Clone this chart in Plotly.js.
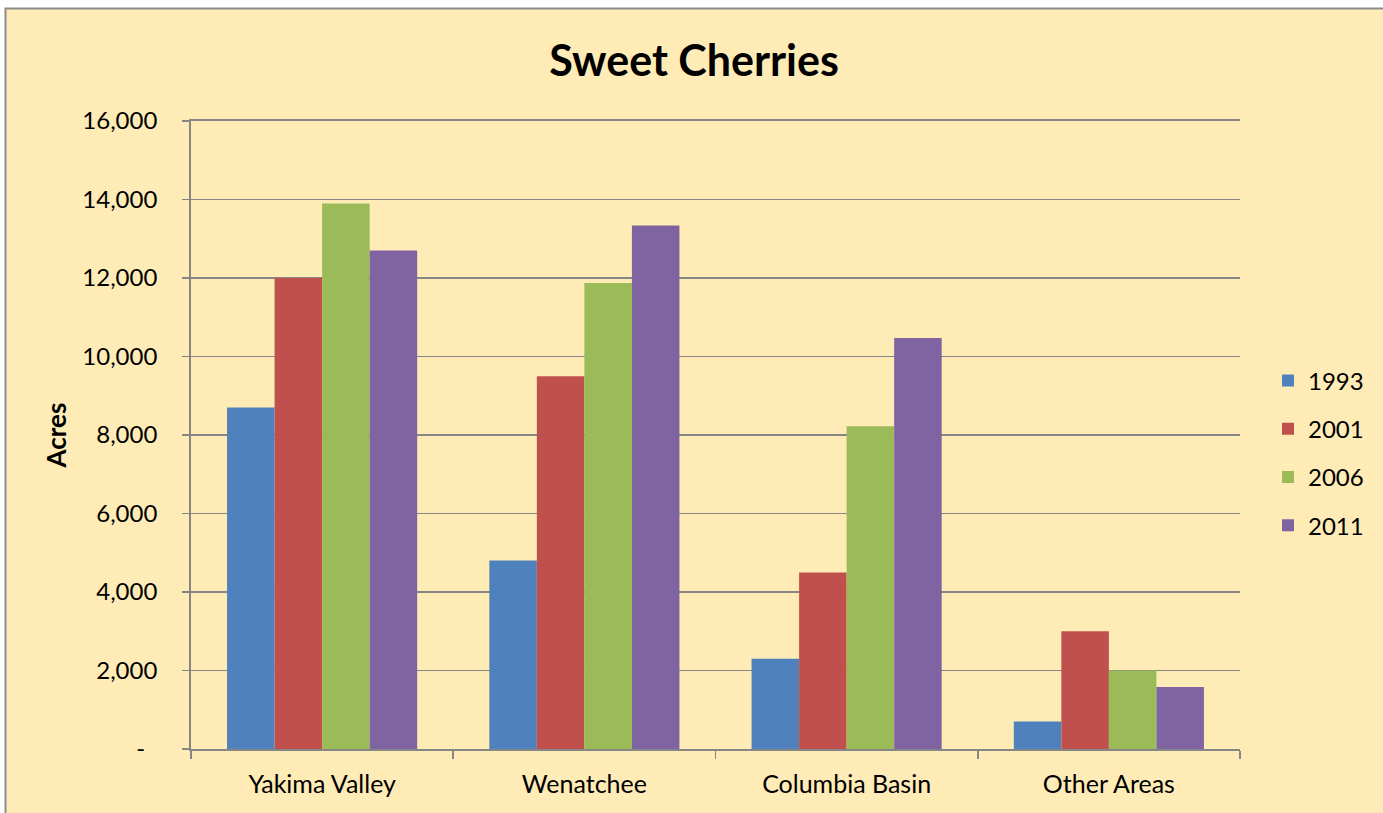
<!DOCTYPE html>
<html>
<head>
<meta charset="utf-8">
<script src="https://cdn.plot.ly/plotly-3.0.1.min.js"></script>
<style>html,body{margin:0;padding:0;background:#fff;}#chart{width:1383px;height:813px;}</style>
</head>
<body>
<div id="chart"></div>
<script>
const regions = ["Yakima Valley", "Wenatchee", "Columbia Basin", "Other Areas"];
const years = ["1993", "2001", "2006", "2011"];
const acres1993 = [8700, 4800, 2300, 700];
const acres2001 = [12000, 9500, 4500, 3000];
const acres2006 = [13900, 11870, 8220, 2000];
const acres2011 = [12700, 13340, 10470, 1580];
const colors = ["#4F81BD", "#C0504D", "#9BBB59", "#8064A2"];
const yTickVals = [0, 2000, 4000, 6000, 8000, 10000, 12000, 14000, 16000];
const yTickText = ["-\u00a0\u00a0", "2,000", "4,000", "6,000", "8,000", "10,000", "12,000", "14,000", "16,000"];

const series = [acres1993, acres2001, acres2006, acres2011];
const traces = series.map((vals, i) => ({
  type: "bar",
  name: years[i],
  x: regions,
  y: vals,
  marker: {color: colors[i], line: {width: 0}},
  legendgroup: "g" + i,
  hoverinfo: "x+y+name"
}));

const W = 1383, H = 813;
const gridColor = "#868686";
const layout = {
  width: W, height: H,
  margin: {l: 0, r: 0, t: 0, b: 0},
  paper_bgcolor: "#FFFFFF",
  plot_bgcolor: "#FFFFFF",
  font: {family: "Lato, 'Open Sans', sans-serif", color: "#000000", size: 24},
  barmode: "group",
  bargap: 0.275,
  bargroupgap: 0,
  title: {
    text: "<b>Sweet Cherries</b>",
    font: {family: "Lato, sans-serif", size: 43, color: "#000000"},
    x: 694 / W, xref: "paper", xanchor: "center",
    y: 1 - 61 / H, yref: "paper", yanchor: "middle"
  },
  xaxis: {
    domain: [191 / W, 1240 / W],
    type: "category",
    showline: true, linecolor: gridColor, linewidth: 1.8, mirror: true,
    ticks: "outside", tickson: "boundaries", ticklen: 8, tickcolor: gridColor, tickwidth: 1.8,
    ticklabelstandoff: 12,
    showgrid: false,
    tickfont: {size: 25},
    automargin: false,
    fixedrange: true
  },
  yaxis: {
    domain: [64 / H, 692 / H],
    range: [0, 16000],
    tickvals: yTickVals,
    ticktext: yTickText,
    showline: true, linecolor: gridColor, linewidth: 1.8,
    ticks: "outside", ticklen: 7, tickcolor: gridColor, tickwidth: 1.8,
    ticklabelstandoff: 20,
    showgrid: true, gridcolor: gridColor, gridwidth: 1.8,
    zeroline: false,
    tickfont: {size: 24},
    title: {text: "<b>Acres</b>", font: {size: 26}, standoff: 8},
    automargin: false,
    fixedrange: true
  },
  legend: {
    x: 1268 / W, xanchor: "left",
    y: 1 - 453 / H, yanchor: "middle",
    bgcolor: "rgba(0,0,0,0)",
    font: {size: 24},
    tracegroupgap: 14,
    itemwidth: 30
  },
  showlegend: true,
  shapes: [{
    type: "rect", xref: "paper", yref: "paper", layer: "below",
    x0: 5.5 / W, x1: 1.05, y0: -0.05, y1: 1 - 8.5 / H,
    fillcolor: "#FFEBB6",
    line: {color: "#8C8C8C", width: 2}
  }]
};

Plotly.newPlot("chart", traces, layout, {displayModeBar: false, staticPlot: true});
</script>
</body>
</html>
